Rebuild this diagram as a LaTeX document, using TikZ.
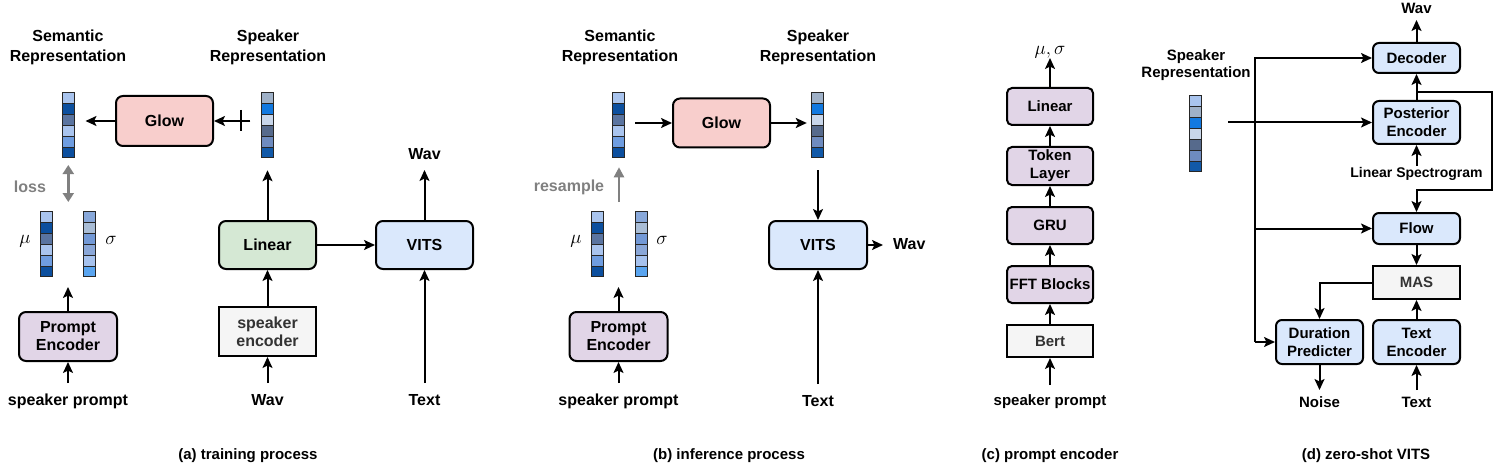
\RequirePackage{fix-cm}
\documentclass[tikz,border=0pt]{standalone}
\usepackage{fontspec}
\setmainfont{Liberation Sans}
\usetikzlibrary{arrows.meta,calc}
\definecolor{pinkf}{HTML}{F8CECC}
\definecolor{greenf}{HTML}{D5E8D4}
\definecolor{bluef}{HTML}{DAE8FC}
\definecolor{purpf}{HTML}{E1D5E7}
\definecolor{greyfill}{HTML}{F5F5F5}
\definecolor{greytext}{HTML}{333333}
\definecolor{arrgray}{HTML}{808080}
\definecolor{vA}{HTML}{A9C4EE}
\definecolor{vB}{HTML}{0C4F9E}
\definecolor{vC}{HTML}{5A74A0}
\definecolor{vD}{HTML}{6F9DE0}
\definecolor{vE}{HTML}{9FB1C8}
\definecolor{vF}{HTML}{1279E0}
\definecolor{vG}{HTML}{C8D6EA}
\definecolor{vH}{HTML}{566A8C}
\definecolor{vI}{HTML}{6E8BBF}
\definecolor{vJ}{HTML}{1159A8}
\definecolor{sA}{HTML}{88A8DA}
\definecolor{sB}{HTML}{A9BDD6}
\definecolor{sC}{HTML}{7399D6}
\definecolor{sD}{HTML}{8AA7D8}
\definecolor{sE}{HTML}{A6C2EE}
\definecolor{sF}{HTML}{5AA5F0}
\newcommand{\mycellbar}[2]{%
  \foreach \c [count=\i from 0] in {#2}{%
    \draw[cell, fill=\c] ($(#1.north west)+(0,\i*10.85)$) rectangle ++(12,10.85);}}
\begin{document}
\begin{tikzpicture}[x=1pt,y=-1pt,
  font=\fontsize{16}{18}\selectfont\bfseries,
  sm/.style={font=\fontsize{15}{18}\selectfont\bfseries},
  box/.style={draw, line width=2pt, rounded corners=7pt, inner sep=0pt, align=center},
  sqbox/.style={draw, line width=2pt, inner sep=0pt, align=center, fill=greyfill, text=greytext},
  arr/.style={line width=2pt, -{Stealth[length=11pt,width=10pt,inset=2.5pt]}},
  ln/.style={line width=2pt},
  lbl/.style={inner xsep=0pt, text height=11pt, text depth=3pt},
  head/.style={align=center, inner sep=0pt, font=\fontsize{16}{20}\selectfont\bfseries},
  vec6/.style={inner sep=0pt, minimum width=12pt, minimum height=65.1pt},
  vec7/.style={inner sep=0pt, minimum width=12pt, minimum height=75.95pt},
  cell/.style={draw=black!85, line width=0.8pt},
  garr/.style={draw=arrgray, line width=3pt, {Triangle[length=9pt,width=11pt]}-{Triangle[length=9pt,width=11pt]}},
  garr1/.style={draw=arrgray, line width=2.2pt, -{Triangle[length=10pt,width=10pt]}},
  math/.style={font=\fontsize{19}{22}\selectfont, inner sep=0pt}
]
\useasboundingbox (0,0) rectangle (1499,476);

% ================= (a) training process =================
\node[head] (semAt) at (68,47) {Semantic\\Representation};
\node[head] (spkAt) at (268,47) {Speaker\\Representation};
\node[vec6] (semA) at (68.3,125.5) {};
\mycellbar{semA}{vA,vB,vC,vA,vD,vB}
\node[vec6] (spkA) at (267.5,125.5) {};
\mycellbar{spkA}{vE,vF,vG,vH,vI,vJ}
\node[box, fill=pinkf, minimum width=97pt, minimum height=50pt] (glowA) at (164.5,121) {Glow};
\draw[arr, shorten >=11pt] (glowA.west) -- (semA.east |- glowA.west);
\draw[arr, shorten <=11pt] (spkA.west |- glowA.east) -- (glowA.east);
\coordinate (tickA) at (241,121);
\draw[ln] (tickA) ++(0,-11) -- ++(0,21);
\coordinate (lossT) at (68.3,165);
\coordinate (lossB) at (68.3,202);
\draw[garr] (lossT) -- (lossB);
\node[text=arrgray] (lossl) at (30,187) {loss};
\node[vec6] (muA) at (47,244.5) {};
\mycellbar{muA}{vA,vB,vC,vA,vD,vB}
\node[vec6] (sgA) at (90,244.5) {};
\mycellbar{sgA}{sA,sB,sC,sD,sE,sF}
\node[math] (muAl) at (25,241) {$\mu$};
\node[math] (sgAl) at (111,240) {$\sigma$};
\node[box, fill=purpf, minimum width=98pt, minimum height=49pt] (peA) at (68,336.5) {Prompt\\Encoder};
\coordinate (peAout) at (68,287);
\draw[arr] (peA.north) -- (peAout);
\node[lbl, anchor=north, inner ysep=11pt] (spA) at (68,383) {speaker prompt};
\draw[arr] (spA.north) -- (peA.south);
\node[box, fill=greenf, minimum width=97pt, minimum height=48pt] (linA) at (267.5,245) {Linear};
\node[sqbox, minimum width=97pt, minimum height=49pt] (seA) at (267.5,331.5) {speaker\\encoder};
\draw[arr, shorten >=12pt] (linA.north) -- (spkA.south);
\draw[arr] (seA.north) -- (linA.south);
\node[lbl, anchor=north, inner ysep=11pt] (wavAin) at (267.5,383) {Wav};
\draw[arr] (wavAin.north) -- (seA.south);
\node[box, fill=bluef, minimum width=97pt, minimum height=48pt] (vitsA) at (424.5,245) {VITS};
\draw[arr] (linA.east) -- (vitsA.west);
\node[lbl, anchor=south, inner ysep=7pt] (wavAout) at (424.5,170) {Wav};
\draw[arr] (vitsA.north) -- (wavAout.south);
\node[lbl, anchor=north, inner ysep=11pt] (textA) at (424.5,383) {Text};
\draw[arr] (textA.north) -- (vitsA.south);
\node[sm, anchor=base, inner sep=0pt] (capA) at (248,459) {(a) training process};

% ================= (b) inference process =================
\node[head] (semBt) at (620,47) {Semantic\\Representation};
\node[head] (spkBt) at (818,47) {Speaker\\Representation};
\node[vec6] (semB) at (619,125.5) {};
\mycellbar{semB}{vA,vB,vC,vA,vD,vB}
\node[vec6] (spkB) at (818,125.5) {};
\mycellbar{spkB}{vE,vF,vG,vH,vI,vJ}
\node[box, fill=pinkf, minimum width=97pt, minimum height=49pt] (glowB) at (721.5,123) {Glow};
\draw[arr, shorten <=10pt] (semB.east |- glowB.west) -- (glowB.west);
\draw[arr, shorten >=5pt] (glowB.east) -- (spkB.west |- glowB.east);
\node[box, fill=bluef, minimum width=98pt, minimum height=48pt] (vitsB) at (818,245) {VITS};
\draw[arr, shorten <=12pt] (spkB.south) -- (vitsB.north);
\node[lbl, anchor=west, inner xsep=10pt, inner ysep=0pt] (wavB) at (883,245) {Wav};
\draw[arr] (vitsB.east) -- (wavB.west);
\node[lbl, anchor=north, inner ysep=11pt] (textB) at (818,384) {Text};
\draw[arr] (textB.north) -- (vitsB.south);
\coordinate (resB) at (619,202);
\draw[garr1, shorten >=9pt] (resB) -- (semB.south);
\node[text=arrgray] (resl) at (569,187) {resample};
\node[vec6] (muB) at (597.5,244.5) {};
\mycellbar{muB}{vA,vB,vC,vA,vD,vB}
\node[vec6] (sgB) at (641.5,244.5) {};
\mycellbar{sgB}{sA,sB,sC,sD,sE,sF}
\node[math] (muBl) at (576,241) {$\mu$};
\node[math] (sgBl) at (662,240) {$\sigma$};
\node[box, fill=purpf, minimum width=98pt, minimum height=49pt] (peB) at (618.5,336.5) {Prompt\\Encoder};
\coordinate (peBout) at (618.5,287);
\draw[arr] (peB.north) -- (peBout);
\node[lbl, anchor=north, inner ysep=11pt] (spB) at (618.5,383) {speaker prompt};
\draw[arr] (spB.north) -- (peB.south);
\node[sm, anchor=base, inner sep=0pt] (capB) at (729,459) {(b) inference process};

% ================= (c) prompt encoder =================
\begin{scope}[every node/.append style={sm}]
\node[lbl, anchor=south, inner ysep=3pt, math] (musig) at (1050,58) {$\mu,\sigma$};
\node[box, fill=purpf, rounded corners=5pt, minimum width=86pt, minimum height=37pt] (linC) at (1050,106.5) {Linear};
\node[box, fill=purpf, rounded corners=5pt, minimum width=86pt, minimum height=38pt] (tokC) at (1050,166) {Token\\Layer};
\node[box, fill=purpf, rounded corners=5pt, minimum width=86pt, minimum height=37pt] (gruC) at (1050,225.5) {GRU};
\node[box, fill=purpf, rounded corners=5pt, minimum width=86pt, minimum height=37pt] (fftC) at (1050,284.5) {FFT Blocks};
\node[sqbox, minimum width=86pt, minimum height=32pt] (bertC) at (1050,341) {Bert};
\node[lbl, anchor=north, inner ysep=9pt] (spC) at (1050,385) {speaker prompt};
\node[anchor=base, inner sep=0pt] (capC) at (1050,459) {(c) prompt encoder};
\end{scope}
\draw[arr] (linC.north) -- (musig.south);
\draw[arr] (tokC.north) -- (linC.south);
\draw[arr] (gruC.north) -- (tokC.south);
\draw[arr] (fftC.north) -- (gruC.south);
\draw[arr] (bertC.north) -- (fftC.south);
\draw[arr] (spC.north) -- (bertC.south);

% ================= (d) zero-shot VITS =================
\begin{scope}[every node/.append style={sm}]
\node[lbl, anchor=south, inner ysep=3pt] (wavD) at (1416.5,20) {Wav};
\node[box, fill=bluef, rounded corners=6pt, minimum width=87pt, minimum height=30pt] (decD) at (1416.5,58) {Decoder};
\node[box, fill=bluef, rounded corners=6pt, minimum width=87pt, minimum height=43pt] (postD) at (1416.5,122.5) {Posterior\\Encoder};
\node[box, fill=bluef, rounded corners=6pt, minimum width=87pt, minimum height=31pt] (flowD) at (1416.5,228.5) {Flow};
\node[sqbox, minimum width=87pt, minimum height=33pt] (masD) at (1416.5,282.5) {MAS};
\node[box, fill=bluef, rounded corners=6pt, minimum width=87pt, minimum height=44pt] (dpD) at (1319.5,342) {Duration\\Predicter};
\node[box, fill=bluef, rounded corners=6pt, minimum width=87pt, minimum height=44pt] (teD) at (1416.5,342) {Text\\Encoder};
\node[anchor=base, inner xsep=0pt, inner ysep=2pt, text height=10pt, text depth=3pt, font=\fontsize{14}{16}\selectfont\bfseries] (lsD) at (1416.5,178) {Linear Spectrogram};
\node[head, font=\fontsize{15}{17.5}\selectfont\bfseries] (spkDt) at (1196,65) {Speaker\\Representation};
\node[vec7] (spkD) at (1196,134) {};
\node[lbl, anchor=north, inner ysep=6pt] (noiseD) at (1319.5,390) {Noise};
\node[lbl, anchor=north, inner ysep=6pt] (textD) at (1416.5,390) {Text};
\node[anchor=base, inner sep=0pt] (capD) at (1366,459) {(d) zero-shot VITS};
\end{scope}
\mycellbar{spkD}{vA,vE,vF,vG,vH,vI,vJ}
\draw[arr] (decD.north) -- (wavD.south);
\draw[arr] (postD.north) -- (decD.south);
\draw[arr] (lsD.north) -- (postD.south);
\draw[arr] ($(postD.north)+(0,-8)$) -- ++(75,0) -- ++(0,98) -| (flowD.north);
\draw[arr, shorten <=26pt] (spkD.east |- postD.west) -- (postD.west);
\coordinate (busB) at (1255,342);
\draw[arr] (busB) |- (decD.west);
\draw[arr] (busB |- flowD.west) -- (flowD.west);
\draw[arr] (busB) -- (dpD.west);
\draw[arr] (flowD.south) -- (masD.north);
\draw[arr] (teD.north) -- (masD.south);
\draw[arr] (masD.west) -| (dpD.north);
\draw[arr] (dpD.south) -- (noiseD.north);
\draw[arr] (textD.north) -- (teD.south);
\end{tikzpicture}
\end{document}
